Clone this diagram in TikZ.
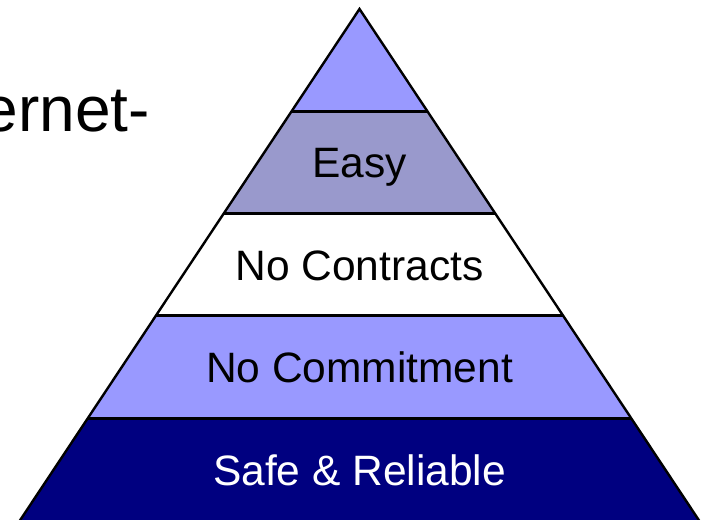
\documentclass[tikz,border=0pt]{standalone}
\usepackage{fontspec}
\setmainfont{Liberation Sans}
\usetikzlibrary{calc}
\definecolor{periwinkle}{HTML}{9999FF}
\definecolor{lavendergray}{HTML}{9999CC}
\definecolor{navyband}{HTML}{000080}
\tikzstyle{band} = [line width=3pt, line join=miter]
\tikzstyle{band label} = [anchor=base, inner sep=0, font=\fontsize{42.5}{50}\selectfont]

\begin{document}
\begin{tikzpicture}[x=1pt, y=-1pt]
\useasboundingbox (0,0) rectangle (708,519);
\clip (0,0) rectangle (708,519);

\coordinate (apex) at (359.5,9);
\coordinate (bl) at (19.9,520.5);
\coordinate (br) at (699.1,520.5);

    % fills, top to bottom
    \foreach \k/\col in {0/periwinkle, 1/lavendergray, 2/white, 3/periwinkle, 4/navyband}{
        \pgfmathsetmacro{\ta}{\k/5}
        \pgfmathsetmacro{\tb}{(\k+1)/5}
        \fill[\col] ($(apex)!\ta!(bl)$) -- ($(apex)!\tb!(bl)$) -- ($(apex)!\tb!(br)$) -- ($(apex)!\ta!(br)$) -- cycle;
    }
    % outlines
    \foreach \k in {1,...,4}{
        \draw[band] ($(apex)!\k/5!(bl)$) -- ($(apex)!\k/5!(br)$);
    }
    \draw[band, line width=2.4pt] (bl) -- (apex) -- (br);

    \node[band label] (easy) at (359.5,177.5) {Easy};
    \node[band label] (contracts) at (359.5,280) {No Contracts};
    \node[band label] (commitment) at (359.5,382) {No Commitment};
    \node[band label, text=white] (safe) at (359.5,485) {Safe \& Reliable};

    \node[anchor=base east, inner sep=0, font=\fontsize{64}{76}\selectfont] (title) at (150,131) {ernet-};

\end{tikzpicture}
\end{document}
